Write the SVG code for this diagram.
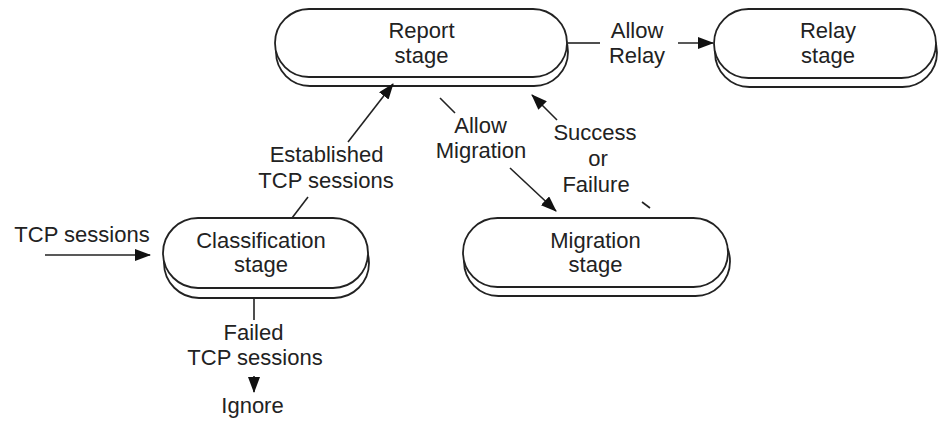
<svg xmlns="http://www.w3.org/2000/svg" width="940" height="424" viewBox="0 0 940 424">
<style>
.pill{fill:#fff;stroke:#222;stroke-width:1.8}
.t{font-family:"Liberation Sans",Arial,sans-serif;font-size:22px;fill:#222;text-anchor:middle}
.c{fill:none;stroke:#222;stroke-width:1.6}
</style>
<defs>
<marker id="ah" markerUnits="userSpaceOnUse" markerWidth="16" markerHeight="12" refX="15" refY="6" orient="auto">
<path d="M0,0 L16,6 L0,12 Z" fill="#111"/>
</marker>
</defs>
<rect width="940" height="424" fill="#fff"/>
<g id="report">
<rect class="pill" x="276" y="18" width="292" height="68" rx="34"/>
<rect class="pill" x="275" y="9" width="292" height="68" rx="34"/>
<text class="t" x="421.5" y="38">Report</text>
<text class="t" x="421.5" y="63">stage</text>
</g>
<g id="relay">
<rect class="pill" x="715" y="18" width="222" height="69" rx="34.5"/>
<rect class="pill" x="714" y="9" width="222" height="69" rx="34.5"/>
<text class="t" x="828" y="38">Relay</text>
<text class="t" x="828" y="63">stage</text>
</g>
<g id="classification">
<rect class="pill" x="164" y="228" width="205" height="70" rx="35"/>
<rect class="pill" x="163" y="218" width="205" height="70" rx="35"/>
<text class="t" x="261" y="248">Classification</text>
<text class="t" x="261" y="272">stage</text>
</g>
<g id="migration">
<rect class="pill" x="464" y="227" width="266" height="69" rx="34.5"/>
<rect class="pill" x="463" y="218" width="265" height="69" rx="34.5"/>
<text class="t" x="595.5" y="248">Migration</text>
<text class="t" x="595.5" y="272">stage</text>
</g>
<g id="connectors">
<line class="c" x1="45" y1="255" x2="150" y2="255" marker-end="url(#ah)"/>
<line class="c" x1="568" y1="43" x2="600" y2="43"/>
<line class="c" x1="678" y1="43" x2="713" y2="43" marker-end="url(#ah)"/>
<line class="c" x1="308" y1="197" x2="292" y2="218"/>
<line class="c" x1="348" y1="142" x2="393" y2="84" marker-end="url(#ah)"/>
<line class="c" x1="440" y1="98" x2="455" y2="113"/>
<line class="c" x1="510" y1="168" x2="556" y2="211" marker-end="url(#ah)"/>
<line class="c" x1="642" y1="202" x2="650" y2="208"/>
<line class="c" x1="557" y1="120" x2="532" y2="95" marker-end="url(#ah)"/>
<line class="c" x1="254" y1="297" x2="254" y2="320"/>
<line class="c" x1="254" y1="376" x2="254" y2="392" marker-end="url(#ah)"/>
</g>
<g id="labels">
<text class="t" x="82" y="242">TCP sessions</text>
<text class="t" x="637" y="38">Allow</text>
<text class="t" x="637" y="63">Relay</text>
<text class="t" x="326.5" y="162">Established</text>
<text class="t" x="326" y="188">TCP sessions</text>
<text class="t" x="480.5" y="133">Allow</text>
<text class="t" x="481" y="158">Migration</text>
<text class="t" x="595" y="140">Success</text>
<text class="t" x="598" y="166">or</text>
<text class="t" x="596" y="192">Failure</text>
<text class="t" x="253.5" y="340">Failed</text>
<text class="t" x="255" y="365">TCP sessions</text>
<text class="t" x="252.5" y="413">Ignore</text>
</g>
</svg>
